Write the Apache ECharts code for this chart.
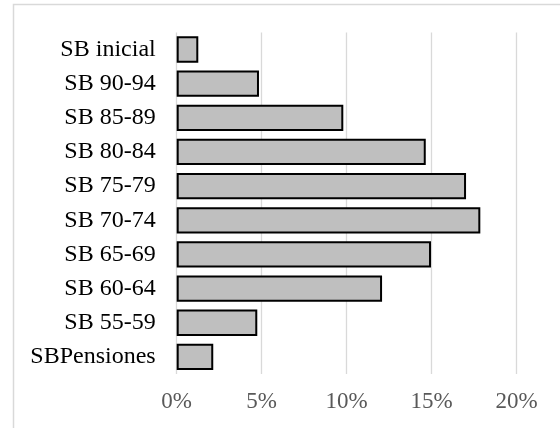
<!DOCTYPE html>
<html>
<head>
<meta charset="utf-8">
<script src="https://cdn.jsdelivr.net/npm/echarts@6/dist/echarts.min.js"></script>
<style>
html,body{margin:0;padding:0;background:#fff;}
#chart{width:560px;height:428px;}
</style>
</head>
<body>
<div id="chart"></div>
<script>
var categories = ['SB inicial','SB 90-94','SB 85-89','SB 80-84','SB 75-79','SB 70-74','SB 65-69','SB 60-64','SB 55-59','SBPensiones'];
var values = [1.27, 4.84, 9.8, 14.65, 17.02, 17.86, 14.96, 12.08, 4.74, 2.15];
var xTicks = [0, 5, 10, 15, 20];

var chart = echarts.init(document.getElementById('chart'), null, {renderer:'canvas'});
chart.setOption({
  animation: false,
  backgroundColor: '#ffffff',
  graphic: [{
    type: 'rect',
    shape: {x: 13.5, y: 4.5, width: 600, height: 500},
    style: {fill: 'none', stroke: '#d9d9d9', lineWidth: 1.5},
    silent: true
  }],
  grid: {left: 176.7, right: 43.3, top: 32.4, bottom: 54, containLabel: false},
  xAxis: {
    type: 'value',
    min: xTicks[0],
    max: xTicks[xTicks.length - 1],
    interval: 5,
    axisLine: {show: false},
    axisTick: {show: false},
    splitLine: {show: true, lineStyle: {color: '#d9d9d9', width: 1.3}},
    axisLabel: {
      formatter: '{value}%',
      color: '#595959',
      fontFamily: 'Liberation Serif',
      fontSize: 23,
      margin: 16
    }
  },
  yAxis: {
    type: 'category',
    inverse: true,
    data: categories,
    axisLine: {show: false},
    axisTick: {show: false},
    axisLabel: {
      color: '#000000',
      fontFamily: 'Liberation Serif',
      fontSize: 24,
      margin: 21
    }
  },
  series: [{
    type: 'bar',
    data: values,
    barCategoryGap: '23%',
    itemStyle: {color: '#bfbfbf', borderColor: '#000000', borderWidth: 2}
  }]
});
</script>
</body>
</html>
